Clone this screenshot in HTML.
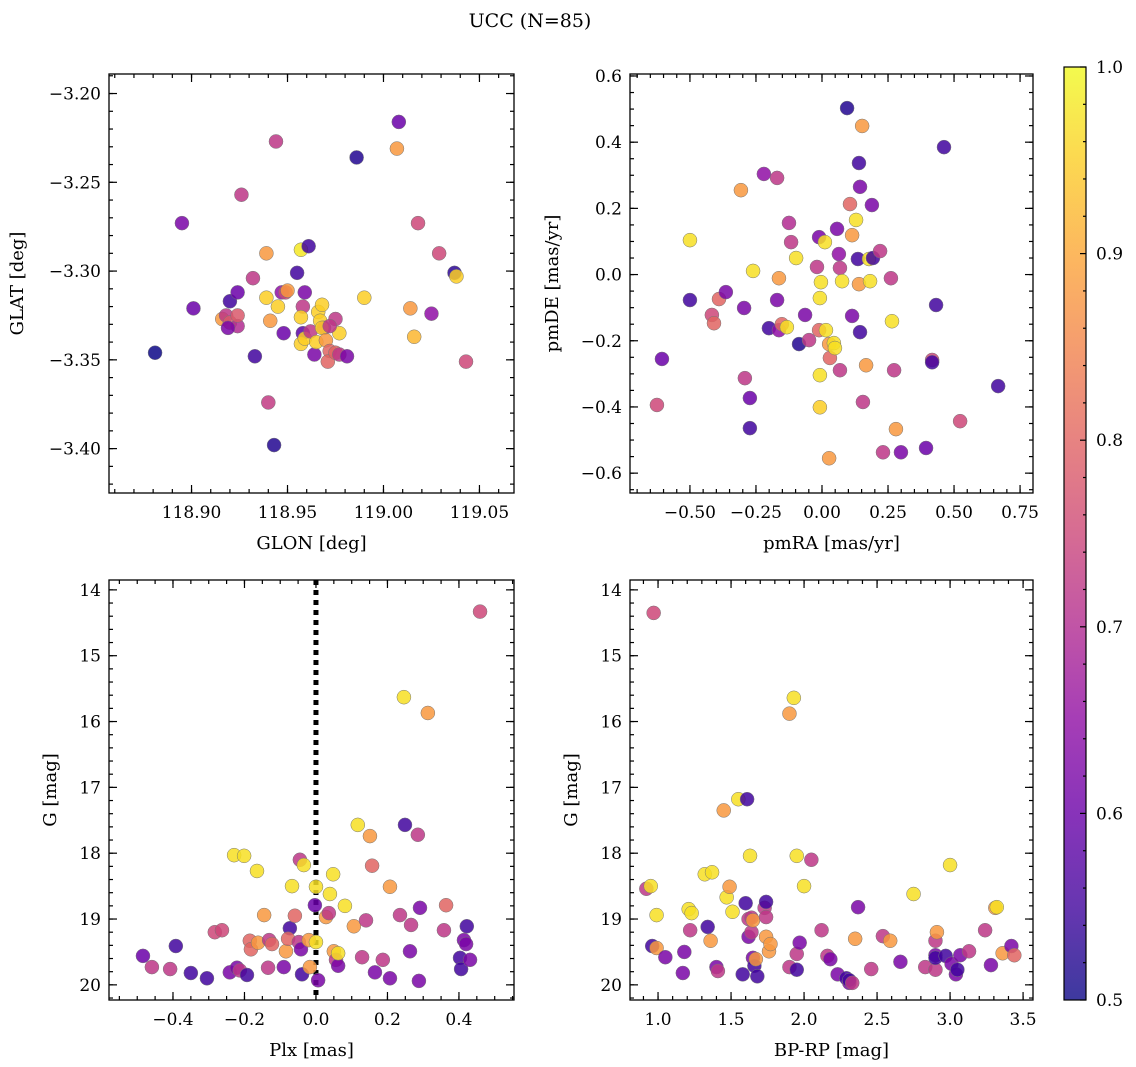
<!DOCTYPE html>
<html><head><meta charset="utf-8">
<style>
html,body{margin:0;padding:0;background:#fff;}
svg{display:block;font-family:"DejaVu Serif","Liberation Serif",serif;}
</style></head>
<body>
<svg id="fig" width="1136" height="1067" viewBox="0 0 1136 1067" xmlns="http://www.w3.org/2000/svg">
<text x="530" y="27" text-anchor="middle" font-size="19">UCC (N=85)</text>
</svg>
<script>
// ---- Panel 1: GLON / GLAT ----
const glon = [118.881,118.895,118.901,118.920,118.926,118.924,118.916,118.918,118.920,118.924,118.919,118.924,118.932,118.933,118.939,118.944,118.939,118.940,118.941,118.943,118.948,118.947,118.945,118.949,118.950,118.955,118.957,118.958,118.959,118.957,118.958,118.957,118.959,118.961,118.962,118.964,118.965,118.966,118.967,118.968,118.969,118.968,118.970,118.972,118.971,118.975,118.977,118.981,118.977,118.986,118.990,119.007,119.008,119.014,119.016,119.018,119.025,119.029,119.037,119.038,119.043,118.975,118.972];
const glat = [-3.346,-3.273,-3.321,-3.317,-3.257,-3.312,-3.327,-3.325,-3.329,-3.331,-3.332,-3.325,-3.304,-3.348,-3.290,-3.227,-3.315,-3.374,-3.328,-3.398,-3.335,-3.312,-3.320,-3.312,-3.311,-3.301,-3.288,-3.320,-3.312,-3.326,-3.335,-3.341,-3.338,-3.286,-3.334,-3.347,-3.340,-3.323,-3.328,-3.319,-3.332,-3.332,-3.339,-3.345,-3.351,-3.346,-3.347,-3.348,-3.335,-3.236,-3.315,-3.231,-3.216,-3.321,-3.337,-3.273,-3.324,-3.290,-3.301,-3.303,-3.351,-3.327,-3.331];
const probPos = [0.5,0.62,0.6,0.55,0.72,0.6,0.88,0.72,0.78,0.7,0.62,0.78,0.72,0.55,0.88,0.72,0.95,0.73,0.88,0.52,0.6,0.65,0.95,0.75,0.88,0.55,0.98,0.72,0.62,0.95,0.58,0.95,0.95,0.55,0.72,0.62,0.95,0.95,0.95,0.95,0.72,0.95,0.88,0.8,0.8,0.8,0.72,0.62,0.95,0.52,0.95,0.88,0.6,0.88,0.92,0.75,0.65,0.75,0.53,0.95,0.75,0.72,0.72];

// ---- Panel 2: proper motions ----
const pmra = [-0.606,-0.500,-0.500,-0.625,-0.417,-0.409,-0.390,-0.364,-0.307,-0.295,-0.292,-0.273,-0.273,-0.261,-0.220,-0.170,-0.163,-0.170,-0.201,-0.163,-0.152,-0.133,-0.125,-0.117,-0.098,-0.087,-0.064,-0.049,-0.019,-0.011,-0.004,-0.008,-0.011,-0.008,-0.008,0.011,0.015,0.027,0.027,0.030,0.045,0.049,0.057,0.064,0.068,0.068,0.076,0.106,0.095,0.114,0.114,0.129,0.136,0.144,0.144,0.152,0.140,0.155,0.167,0.178,0.182,0.193,0.189,0.220,0.231,0.261,0.265,0.273,0.280,0.299,0.394,0.417,0.417,0.432,0.462,0.523,0.667,0.140];
const pmde = [-0.255,0.104,-0.077,-0.394,-0.122,-0.147,-0.074,-0.053,0.255,-0.101,-0.313,-0.373,-0.464,0.011,0.304,0.292,-0.011,-0.077,-0.162,-0.168,-0.150,-0.159,0.156,0.098,0.050,-0.210,-0.122,-0.198,0.023,0.113,-0.023,-0.071,-0.168,-0.304,-0.401,0.098,-0.168,-0.555,-0.210,-0.252,-0.207,-0.222,0.138,0.062,0.020,-0.289,-0.020,0.213,0.503,0.119,-0.125,0.165,0.047,-0.174,0.265,0.449,-0.029,-0.385,-0.274,0.047,-0.020,0.050,0.210,0.071,-0.537,-0.011,-0.141,-0.289,-0.467,-0.537,-0.524,-0.258,-0.265,-0.092,0.385,-0.443,-0.337,0.337];
const probPm = [0.6,0.97,0.55,0.75,0.75,0.8,0.8,0.62,0.88,0.62,0.72,0.6,0.55,0.97,0.65,0.72,0.88,0.62,0.55,0.65,0.8,0.97,0.7,0.72,0.97,0.52,0.62,0.72,0.72,0.62,0.97,0.97,0.8,0.97,0.95,0.97,0.97,0.88,0.88,0.8,0.97,0.97,0.62,0.65,0.72,0.72,0.97,0.8,0.52,0.88,0.62,0.97,0.55,0.55,0.62,0.88,0.88,0.72,0.88,0.97,0.97,0.55,0.62,0.72,0.72,0.72,0.97,0.72,0.88,0.62,0.6,0.75,0.55,0.55,0.55,0.75,0.55,0.55];

// ---- Panel 3: Plx / G ----
const plx = [-0.484,-0.459,-0.408,-0.392,-0.350,-0.305,-0.283,-0.263,-0.241,-0.229,-0.201,-0.221,-0.213,-0.193,-0.185,-0.182,-0.165,-0.162,-0.145,-0.134,-0.131,-0.123,-0.090,-0.073,-0.084,-0.078,-0.067,-0.059,-0.048,-0.045,-0.039,-0.042,-0.034,-0.020,-0.017,-0.003,0.000,0.000,0.006,0.028,0.039,0.048,0.036,0.050,0.056,0.062,0.062,0.081,0.106,0.117,0.129,0.140,0.151,0.157,0.165,0.187,0.207,0.207,0.235,0.246,0.249,0.263,0.266,0.285,0.288,0.313,0.291,0.358,0.364,0.403,0.406,0.414,0.420,0.422,0.431,0.459];
const gPlx = [19.56,19.73,19.76,19.41,19.82,19.90,19.20,19.17,19.81,18.03,18.04,19.74,19.78,19.85,19.33,19.46,18.27,19.36,18.94,19.74,19.32,19.38,19.73,19.14,19.49,19.30,18.50,18.95,19.35,18.10,19.84,19.46,18.18,19.32,19.73,18.79,18.51,19.35,19.93,18.97,18.62,18.32,18.91,19.49,19.62,19.71,19.52,18.80,19.11,17.57,19.58,19.02,17.74,18.19,19.81,19.62,18.51,19.90,18.94,15.63,17.57,19.49,19.09,17.72,19.94,15.87,18.83,19.17,18.79,19.59,19.76,19.32,19.38,19.11,19.62,14.33];
const probPlx = [0.6,0.72,0.72,0.55,0.55,0.55,0.75,0.75,0.62,0.97,0.97,0.62,0.72,0.55,0.8,0.8,0.97,0.88,0.88,0.72,0.72,0.8,0.62,0.55,0.88,0.8,0.97,0.8,0.72,0.72,0.55,0.62,0.97,0.88,0.88,0.6,0.97,0.97,0.62,0.88,0.97,0.97,0.72,0.88,0.72,0.62,0.97,0.97,0.88,0.97,0.72,0.72,0.88,0.8,0.62,0.72,0.88,0.62,0.72,0.97,0.55,0.62,0.72,0.72,0.62,0.88,0.62,0.72,0.8,0.55,0.55,0.62,0.62,0.55,0.62,0.75];

// ---- Panel 4: BP-RP / G ----
const bprp = [0.92,0.95,0.96,0.99,0.99,1.05,0.97,1.17,1.18,1.21,1.23,1.22,1.32,1.34,1.36,1.37,1.40,1.41,1.45,1.55,1.61,1.47,1.49,1.51,1.58,1.60,1.62,1.62,1.64,1.64,1.65,1.63,1.65,1.66,1.67,1.68,1.73,1.74,1.74,1.74,1.76,1.77,1.90,1.93,1.90,1.95,1.95,1.95,1.97,2.00,2.05,2.12,2.16,2.18,2.23,2.29,2.31,2.31,2.35,2.37,2.33,2.46,2.54,2.59,2.66,2.75,2.83,2.90,2.90,2.90,2.91,2.90,2.97,3.00,3.01,3.04,3.05,3.07,3.13,3.24,3.28,3.31,3.32,3.36,3.42,3.44];
const gCmd = [18.54,18.50,19.41,19.44,18.94,19.58,14.35,19.82,19.50,18.85,18.91,19.17,18.32,19.12,19.33,18.29,19.73,19.79,17.35,17.18,17.18,18.67,18.51,18.89,19.84,18.76,19.00,19.27,18.98,19.20,19.59,18.04,19.02,19.71,19.61,19.87,18.83,18.74,19.27,18.97,19.49,19.38,15.88,15.64,19.73,18.04,19.77,19.53,19.36,18.50,18.10,19.17,19.56,19.61,19.84,19.90,19.97,19.93,19.30,18.82,19.97,19.76,19.26,19.33,19.65,18.62,19.73,19.55,19.77,19.33,19.20,19.59,19.56,18.18,19.68,19.84,19.77,19.55,19.49,19.17,19.70,18.83,18.82,19.52,19.41,19.55];
const probCmd = [0.72,0.97,0.55,0.88,0.97,0.62,0.75,0.62,0.62,0.97,0.97,0.72,0.97,0.55,0.88,0.97,0.62,0.72,0.88,0.97,0.55,0.97,0.88,0.97,0.55,0.55,0.72,0.62,0.72,0.72,0.62,0.97,0.88,0.55,0.88,0.55,0.72,0.55,0.88,0.72,0.88,0.88,0.88,0.97,0.72,0.97,0.55,0.72,0.62,0.97,0.72,0.72,0.72,0.62,0.62,0.55,0.62,0.55,0.88,0.62,0.72,0.72,0.72,0.88,0.62,0.97,0.72,0.62,0.72,0.72,0.88,0.55,0.55,0.97,0.62,0.62,0.55,0.62,0.72,0.72,0.62,0.88,0.97,0.88,0.62,0.8];

const NS = "http://www.w3.org/2000/svg";
const svg = document.getElementById('fig');
const plasma = ["#0d0887","#41049d","#6a00a8","#8f0da4","#b12a90","#cc4778","#e16462","#f2844b","#fca636","#fcce25","#f0f921"];
function hex(h){return [parseInt(h.slice(1,3),16),parseInt(h.slice(3,5),16),parseInt(h.slice(5,7),16)];}
function cmap(p){
  let t=Math.max(0,Math.min(1,(p-0.5)/0.5))*10;
  let i=Math.min(9,Math.floor(t)),f=t-i;
  const a=hex(plasma[i]),b=hex(plasma[i+1]);
  return "rgb("+a.map((v,k)=>Math.round(v+(b[k]-v)*f)).join(",")+")";
}
function mk(tag,attrs,parent){const e=document.createElementNS(NS,tag);for(const k in attrs)e.setAttribute(k,attrs[k]);(parent||svg).appendChild(e);return e;}
function fmt(v,d){let s=v.toFixed(d);if(Math.abs(v)<1e-9)s=(0).toFixed(d);return s.replace("-","\u2212");}
const TFS=17, LFS=18;

function panel(o){
  const g=mk('g',{});
  
  
  const sx=v=>o.x0+(v-o.xmin)/(o.xmax-o.xmin)*(o.x1-o.x0);
  const sy=v=>o.yinv? o.y0+(v-o.ymin)/(o.ymax-o.ymin)*(o.y1-o.y0) : o.y1-(v-o.ymin)/(o.ymax-o.ymin)*(o.y1-o.y0);
  function ticks(min,max,step,len,isX,label,dec){
    const n0=Math.ceil(min/step-1e-6),n1=Math.floor(max/step+1e-6);
    for(let n=n0;n<=n1;n++){
      const v=n*step;
      if(isX){const x=sx(v);
        mk('line',{x1:x,x2:x,y1:o.y1,y2:o.y1-len,stroke:'#000','stroke-width':1.2},g);
        mk('line',{x1:x,x2:x,y1:o.y0,y2:o.y0+len,stroke:'#000','stroke-width':1.2},g);
        if(label){const t=mk('text',{x:x,y:o.y1+25,'text-anchor':'middle','font-size':TFS},g);t.textContent=fmt(v,dec);
          
          }
      } else {const y=sy(v);
        mk('line',{x1:o.x0,x2:o.x0+len,y1:y,y2:y,stroke:'#000','stroke-width':1.2},g);
        mk('line',{x1:o.x1,x2:o.x1-len,y1:y,y2:y,stroke:'#000','stroke-width':1.2},g);
        if(label){const t=mk('text',{x:o.x0-8,y:y+6,'text-anchor':'end','font-size':TFS},g);t.textContent=fmt(v,dec);
          
          }
      }
    }
  }
  const xa=[o.xmin,o.xmax],ya=[Math.min(o.ymin,o.ymax),Math.max(o.ymin,o.ymax)];
  ticks(xa[0],xa[1],o.xminor,4,true,false);
  ticks(xa[0],xa[1],o.xmajor,8,true,true,o.xdec);
  ticks(ya[0],ya[1],o.yminor,4,false,false);
  ticks(ya[0],ya[1],o.ymajor,8,false,true,o.ydec);
  if(o.extra) o.extra(g,sx,sy);
  for(let i=0;i<o.xs.length;i++){
    const c=mk('circle',{cx:sx(o.xs[i]),cy:sy(o.ys[i]),r:7,fill:cmap(o.ps[i]),'fill-opacity':0.85,stroke:'#777','stroke-width':0.5},g);
    
    
  }
  const fr=mk('rect',{x:o.x0,y:o.y0,width:o.x1-o.x0,height:o.y1-o.y0,fill:'none',stroke:'#000','stroke-width':1.3},g);
  
  
  const xl=mk('text',{x:(o.x0+o.x1)/2,y:o.y1+56,'text-anchor':'middle','font-size':LFS},g);xl.textContent=o.xlabel;
  
  
  const yl=mk('text',{x:0,y:0,'text-anchor':'middle','font-size':LFS,transform:`translate(${o.ylx},${(o.y0+o.y1)/2}) rotate(-90)`},g);yl.textContent=o.ylabel;
  
  
}

panel({name:'glon-glat-panel',x0:109,x1:514,y0:74,y1:493,xmin:118.857,xmax:119.068,ymin:-3.425,ymax:-3.189,
  xmajor:0.05,xminor:0.01,ymajor:0.05,yminor:0.01,xdec:2,ydec:2,xs:glon,ys:glat,ps:probPos,xlabel:'GLON [deg]',ylabel:'GLAT [deg]',ylx:23});
panel({name:'proper-motion-panel',x0:630,x1:1033,y0:74,y1:493,xmin:-0.727,xmax:0.799,ymin:-0.660,ymax:0.606,
  xmajor:0.25,xminor:0.05,ymajor:0.2,yminor:0.05,xdec:2,ydec:1,xs:pmra,ys:pmde,ps:probPm,xlabel:'pmRA [mas/yr]',ylabel:'pmDE [mas/yr]',ylx:558});
panel({name:'plx-g-panel',x0:109,x1:514,y0:580,y1:1000,xmin:-0.579,xmax:0.554,ymin:13.85,ymax:20.23,yinv:true,
  xmajor:0.2,xminor:0.05,ymajor:1,yminor:0.2,xdec:1,ydec:0,xs:plx,ys:gPlx,ps:probPlx,xlabel:'Plx [mas]',ylabel:'G [mag]',ylx:56,
  extra:(g,sx,sy)=>{const l=mk('line',{x1:sx(0),x2:sx(0),y1:580,y2:1000,stroke:'#000','stroke-width':5,'stroke-dasharray':'5,5'},g);
    
    }});
panel({name:'cmd-panel',x0:630,x1:1033,y0:580,y1:1000,xmin:0.808,xmax:3.568,ymin:13.85,ymax:20.23,yinv:true,
  xmajor:0.5,xminor:0.1,ymajor:1,yminor:0.2,xdec:1,ydec:0,xs:bprp,ys:gCmd,ps:probCmd,xlabel:'BP-RP [mag]',ylabel:'G [mag]',ylx:577});

// ---- Colorbar ----
const cb=mk('g',{});


const defs=mk('defs',{},cb);
const lg=mk('linearGradient',{id:'plasmaGrad',x1:0,y1:1,x2:0,y2:0},defs);
plasma.forEach((c,i)=>mk('stop',{offset:(i/10),'stop-color':c},lg));
mk('rect',{x:1064,y:67,width:22,height:933,fill:'url(#plasmaGrad)','fill-opacity':0.8},cb);
mk('rect',{x:1064,y:67,width:22,height:933,fill:'none',stroke:'#000','stroke-width':1.2},cb);
const cby=v=>1000-(v-0.5)/0.5*933;
for(let n=25;n<=50;n++){const v=n/50,y=cby(v),major=(n%5===0);
  mk('line',{x1:1086,x2:major?1080:1083,y1:y,y2:y,stroke:'#000','stroke-width':1.2},cb);
  if(major){const t=mk('text',{x:1096,y:y+6,'font-size':TFS},cb);t.textContent=v.toFixed(1);
    
    }
}
</script>
</body></html>
